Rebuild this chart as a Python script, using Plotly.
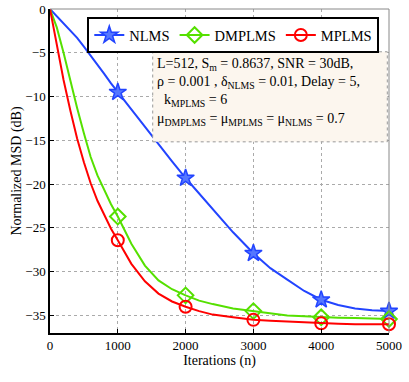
import plotly.graph_objects as go

# learning curves
n = [0, 100, 200, 300, 400, 500, 600, 700, 800, 900, 1000, 1200, 1400, 1600,
     1800, 2000, 2200, 2400, 2700, 3000, 3250, 3500, 3750, 4000, 4250, 4500,
     4750, 5000]
nlms = [0, -0.8, -1.6, -2.4, -3.3, -4.3, -5.3, -6.4, -7.4, -8.5, -9.5, -11.5,
        -13.4, -15.4, -17.4, -19.3, -21.1, -22.9, -25.5, -27.9, -29.6, -30.9,
        -32.2, -33.2, -33.8, -34.2, -34.4, -34.5]
dmplms = [0, -2.1, -5.0, -8.2, -11.3, -14.2, -16.9, -19.0, -20.7, -22.3, -23.7,
          -26.8, -29.3, -31.0, -32.0, -32.7, -33.3, -33.7, -34.2, -34.5, -34.8,
          -35.0, -35.1, -35.2, -35.25, -35.3, -35.35, -35.4]
mplms = [0, -4.1, -8.1, -11.6, -14.8, -17.5, -19.9, -21.9, -23.6, -25.1, -26.4,
         -29.1, -31.1, -32.5, -33.4, -34.0, -34.5, -34.9, -35.2, -35.5, -35.6,
         -35.7, -35.8, -35.9, -35.95, -36.0, -36.0, -36.0]
marker_n = [1000, 2000, 3000, 4000, 5000]

series = [
    ('NLMS', nlms, '#2244ff', 'star', 13),
    ('DMPLMS', dmplms, '#55e000', 'diamond-open', 12),
    ('MPLMS', mplms, '#ff0000', 'circle-open', 12),
]

fig = go.Figure()
for name, vals, col, sym, sz in series:
    fig.add_trace(go.Scatter(x=n, y=vals, mode='lines', showlegend=False,
                             line=dict(color=col, width=2), hoverinfo='skip'))
    mx = [x for x in n if x in marker_n]
    my = [v for x, v in zip(n, vals) if x in marker_n]
    mk = dict(symbol=sym, size=sz, color=col, line=dict(color=col, width=2))
    if sym == 'star':
        mk['color'] = '#5577ff'
        mk['line'] = dict(color=col, width=1.5)
    fig.add_trace(go.Scatter(x=mx, y=my, mode='markers', showlegend=False,
                             marker=mk, cliponaxis=False))
    # legend entry
    fig.add_trace(go.Scatter(x=[None], y=[None], mode='lines+markers', name=name,
                             line=dict(color=col, width=2), marker=mk))

font = 'Liberation Serif, Times New Roman, serif'

# parameter box
fig.add_shape(type='rect', xref='paper', yref='paper', x0=0.303, x1=0.995,
              y0=0.59, y1=0.868, fillcolor='#fcf6ee',
              line=dict(color='#999999', width=1, dash='dot'), layer='above')
fig.add_annotation(
    xref='paper', yref='paper', x=0.31, y=0.862, xanchor='left', yanchor='top',
    align='left', showarrow=False,
    font=dict(family=font, size=14, color='black'),
    text=('L=512, S<sub>m</sub> = 0.8637, SNR = 30dB,<br>'
          'ρ = 0.001 , δ<sub>NLMS</sub> = 0.01, Delay = 5,<br>'
          '  k<sub>MPLMS</sub> = 6<br>'
          'μ<sub>DMPLMS</sub> = μ<sub>MPLMS</sub> = μ<sub>NLMS</sub> = 0.7'))

# gray top / right frame
fig.add_shape(type='line', xref='paper', yref='paper', x0=0, x1=1, y0=1, y1=1,
              line=dict(color='#888888', width=1))
fig.add_shape(type='line', xref='paper', yref='paper', x0=1, x1=1, y0=0, y1=1,
              line=dict(color='#888888', width=1))

axis_common = dict(showgrid=True, gridcolor='#aaaaaa', griddash='dot',
                   gridwidth=1, zeroline=False, showline=True,
                   linecolor='black', linewidth=1.5, ticks='inside',
                   ticklen=4, tickcolor='black', automargin=False,
                   tickfont=dict(family=font, size=13, color='black'))

fig.update_layout(
    width=409, height=382,
    margin=dict(l=50, r=20, t=9, b=49),
    plot_bgcolor='white', paper_bgcolor='white',
    font=dict(family=font, color='black'),
    xaxis=dict(range=[0, 5000], tickvals=[0, 1000, 2000, 3000, 4000, 5000],
               title=dict(text='Iterations (n)', font=dict(size=14), standoff=0),
               **axis_common),
    yaxis=dict(range=[-37, 0], tickvals=[0, -5, -10, -15, -20, -25, -30, -35],
               title=dict(text='Normalized MSD (dB)', font=dict(size=14),
                          standoff=0),
               **axis_common),
    legend=dict(orientation='h', x=0.11, y=0.975, xanchor='left', yanchor='top',
                bgcolor='white', bordercolor='black', borderwidth=2,
                font=dict(family=font, size=14.5, color='black'),
                itemwidth=30, tracegroupgap=0),
    showlegend=True,
)

# drop the default page margin so the figure sits at the window corner
fig.write_html("out.html", config={'displayModeBar': False},
               post_script="document.body.style.margin='0';")
